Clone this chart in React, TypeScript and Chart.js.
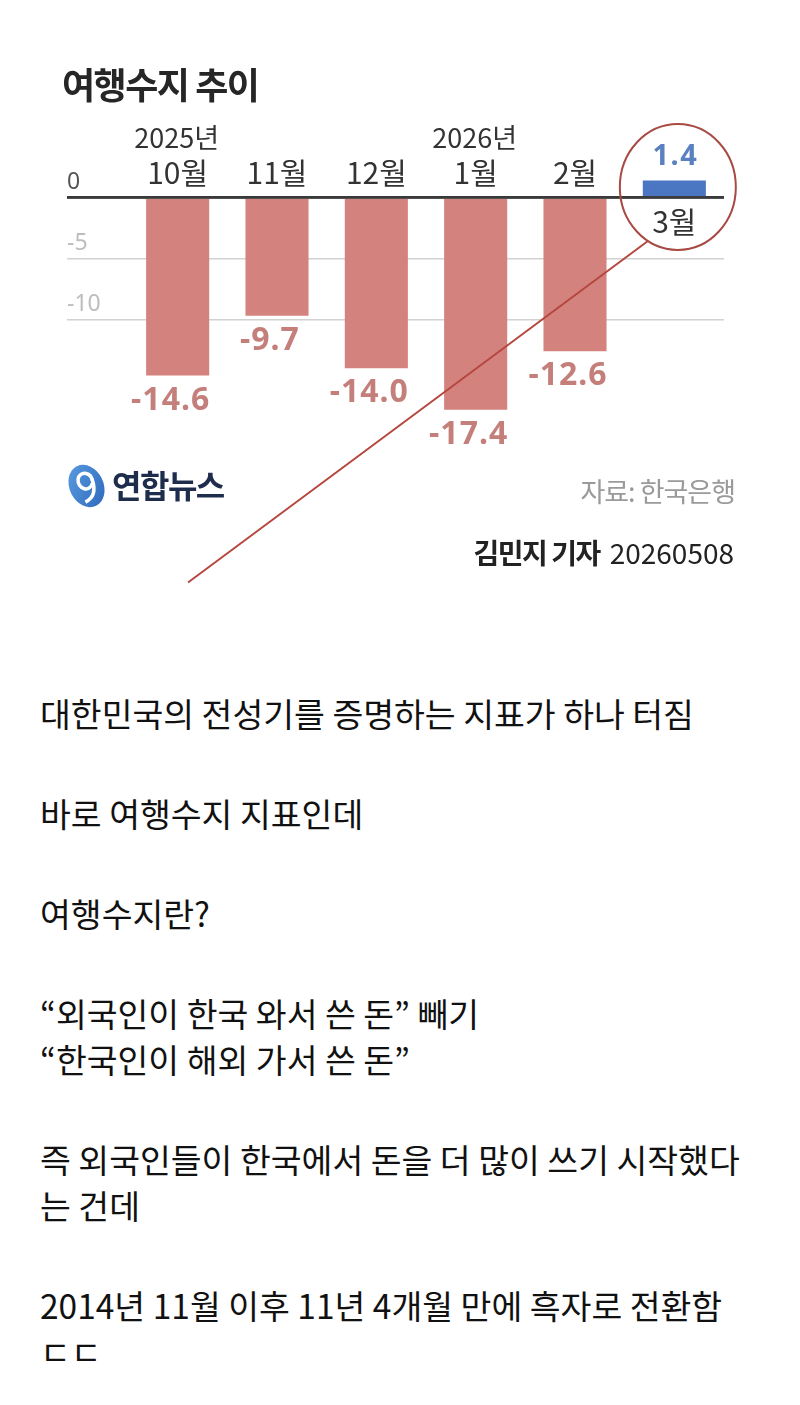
import React, { useEffect, useRef } from "react";
import { Chart, registerables } from "chart.js";

Chart.register(...registerables);

// ---- data ----
const months = ["10월", "11월", "12월", "1월", "2월", "3월"];
const yearLabels = ["2025년", "", "", "2026년", "", ""];
const balance = [-14.6, -9.7, -14.0, -17.4, -12.6, 1.4];
const yTickValues = [0, -5, -10];

const titleText = "여행수지 추이";
const sourceText = "자료: 한국은행";
const bylineName = "김민지 기자";
const bylineDate = "20260508";
const logoText = "연합뉴스";

const bodyParagraphs = [
  ["대한민국의 전성기를 증명하는 지표가 하나 터짐"],
  ["바로 여행수지 지표인데"],
  ["여행수지란?"],
  ["“외국인이 한국 와서 쓴 돈” 빼기", "“한국인이 해외 가서 쓴 돈”"],
  ["즉 외국인들이 한국에서 돈을 더 많이 쓰기 시작했다", "는 건데"],
  ["2014년 11월 이후 11년 4개월 만에 흑자로 전환함", "\u3137\u3137"],
];

const NEG = "#d4827e";
const POS = "#4b76c2";
const NEG_LABEL = "#c47f7b";
const POS_LABEL = "#5a80c2";
const KR = '"Noto Sans CJK KR", "Noto Sans", sans-serif';
const LAT = '"Noto Sans", "Noto Sans CJK KR", sans-serif';

const annotPlugin = {
  id: "annot",
  afterDatasetsDraw(chart: any) {
    const { ctx, scales } = chart;
    const y = scales.y;
    const zeroY = y.getPixelForValue(0);
    ctx.save();
    ctx.strokeStyle = "#3a3a3a";
    ctx.lineWidth = 2.5;
    ctx.beginPath();
    ctx.moveTo(y.left, zeroY);
    ctx.lineTo(chart.chartArea.right, zeroY);
    ctx.stroke();
    ctx.restore();
  },
  afterDraw(chart: any) {
    const { ctx, scales, chartArea } = chart;
    const x = scales.x;
    const y = scales.y;
    const zeroY = y.getPixelForValue(0);
    const meta = chart.getDatasetMeta(0);
    ctx.save();

    // title
    ctx.textBaseline = "middle";
    ctx.textAlign = "left";
    ctx.fillStyle = "#262626";
    ctx.font = `bold 36px ${KR}`;
    (ctx as any).letterSpacing = "-1.5px";
    ctx.fillText(titleText, 62, 85);

    // month + year labels
    (ctx as any).letterSpacing = "0px";
    ctx.textAlign = "center";
    ctx.fillStyle = "#333";
    months.forEach((m, i) => {
      const px = x.getPixelForValue(i);
      ctx.font = `400 30px ${KR}`;
      const my = balance[i] < 0 ? zeroY - 25 : zeroY + 24.5;
      ctx.fillText(m, px, my);
      if (yearLabels[i]) {
        ctx.font = `400 27px ${KR}`;
        ctx.fillText(yearLabels[i], px - 1, zeroY - 60);
      }
    });

    // value labels
    balance.forEach((v, i) => {
      const bar = meta.data[i];
      const py = y.getPixelForValue(v);
      if (v < 0) {
        ctx.font = `bold 32px ${LAT}`;
        (ctx as any).letterSpacing = "1px";
        ctx.fillStyle = NEG_LABEL;
        ctx.fillText(v.toFixed(1), bar.x - 7, py + 25);
      } else {
        ctx.font = `bold 29px ${LAT}`;
        (ctx as any).letterSpacing = "1.5px";
        ctx.fillStyle = POS_LABEL;
        ctx.fillText(v.toFixed(1), bar.x + 1, py - 23.5);
      }
    });
    (ctx as any).letterSpacing = "0px";

    // highlight ellipse around the last bar
    const last = meta.data[balance.length - 1];
    const cx = last.x + 3.5;
    const cy = zeroY - 10.5;
    const rx = 58;
    const ry = 63;
    ctx.strokeStyle = "#a84a44";
    ctx.lineWidth = 2;
    ctx.beginPath();
    ctx.ellipse(cx, cy, rx, ry, 0, 0, Math.PI * 2);
    ctx.stroke();

    // pointer line
    const th = (121 * Math.PI) / 180;
    ctx.strokeStyle = "#b5473f";
    ctx.lineWidth = 2;
    ctx.beginPath();
    ctx.moveTo(cx + rx * Math.cos(th), cy + ry * Math.sin(th));
    ctx.lineTo(chartArea.left + 60, zeroY + 385);
    ctx.stroke();

    // logo
    ctx.save();
    ctx.translate(86.5, 486);
    ctx.rotate(-0.45);
    const g = ctx.createLinearGradient(-18, -21, 18, 21);
    g.addColorStop(0, "#5a9be0");
    g.addColorStop(1, "#2d69bb");
    ctx.fillStyle = g;
    ctx.beginPath();
    ctx.ellipse(0, 0, 17, 22, 0, 0, Math.PI * 2);
    ctx.fill();
    ctx.strokeStyle = "#ffffff";
    ctx.lineWidth = 3.5;
    ctx.beginPath();
    ctx.ellipse(1, -5, 7, 8, 0, 0.2 * Math.PI, 2.1 * Math.PI);
    ctx.stroke();
    ctx.beginPath();
    ctx.moveTo(8, -4);
    ctx.quadraticCurveTo(6, 14, -8, 14);
    ctx.stroke();
    ctx.restore();

    ctx.textAlign = "left";
    ctx.fillStyle = "#1f2d4d";
    ctx.font = `bold 32px ${KR}`;
    (ctx as any).letterSpacing = "-1.5px";
    ctx.fillText(logoText, 112, 486);

    // source
    ctx.textAlign = "right";
    ctx.fillStyle = "#9a9a9a";
    ctx.font = `400 27px ${KR}`;
    (ctx as any).letterSpacing = "-1px";
    ctx.fillText(sourceText, 735, 492);

    // byline
    (ctx as any).letterSpacing = "0px";
    ctx.fillStyle = "#222";
    ctx.font = `400 28px ${KR}`;
    const dw = ctx.measureText(bylineDate).width;
    ctx.fillText(bylineDate, 734, 553);
    ctx.font = `bold 28px ${KR}`;
    (ctx as any).letterSpacing = "-1.5px";
    ctx.fillText(bylineName, 734 - dw - 10, 553);

    ctx.restore();
  },
};

const LINE = 46;
const PARA_GAP = 54;
const TEXT_TOP = 689;

export default function App() {
  const ref = useRef<HTMLCanvasElement | null>(null);

  useEffect(() => {
    if (!ref.current) return;
    const chart = new Chart(ref.current, {
      type: "bar",
      data: {
        labels: months,
        datasets: [
          {
            data: balance,
            backgroundColor: balance.map((v) => (v < 0 ? NEG : POS)),
            borderWidth: 0,
            categoryPercentage: 1,
            barPercentage: 0.635,
          },
        ],
      },
      options: {
        animation: false,
        responsive: false,
        events: [],
        layout: { padding: { left: 67, right: 76, top: 136.5, bottom: 168.5 } },
        plugins: {
          legend: { display: false },
          tooltip: { enabled: false },
          title: { display: false },
        },
        scales: {
          x: { display: false, offset: true },
          y: {
            min: -20,
            max: 5,
            position: "left",
            afterFit: (s: any) => {
              s.width = 61;
            },
            border: { display: false },
            grid: {
              drawTicks: true,
              tickLength: 61,
              color: (c: any) => {
                const v = c.tick ? c.tick.value : null;
                if (v === 0) return "#3a3a3a";
                if (yTickValues.includes(v)) return "#d2d2d2";
                return "rgba(0,0,0,0)";
              },
              lineWidth: (c: any) => (c.tick && c.tick.value === 0 ? 2.5 : 1.5),
            },
            ticks: {
              stepSize: 5,
              crossAlign: "far",
              labelOffset: -15,
              padding: 0,
              autoSkip: false,
              font: { family: LAT, size: 23 },
              color: (c: any) => (c.tick && c.tick.value === 0 ? "#555" : "#bdbdbd"),
              callback: (v: any) => (yTickValues.includes(Number(v)) ? String(v) : ""),
            },
          },
        },
      },
      plugins: [annotPlugin],
    } as any);
    return () => chart.destroy();
  }, []);

  const lines: { text: string; top: number }[] = [];
  let top = TEXT_TOP;
  bodyParagraphs.forEach((p) => {
    p.forEach((t) => {
      lines.push({ text: t, top });
      top += LINE;
    });
    top += PARA_GAP;
  });

  return (
    <div style={{ width: 800, height: 1405, background: "#fff", position: "relative", overflow: "hidden" }}>
      <style>{"body{margin:0;background:#fff}"}</style>
      <canvas ref={ref} width={800} height={610} style={{ display: "block", position: "absolute", left: 0, top: 0 }} />
      {lines.map((l, i) => (
        <div
          key={i}
          style={{
            position: "absolute",
            left: 40,
            top: l.top,
            height: LINE,
            display: "flex",
            alignItems: "center",
            whiteSpace: "nowrap",
            fontFamily: KR,
            fontSize: 33.5,
            color: "#111",
          }}
        >
          {l.text}
        </div>
      ))}
    </div>
  );
}
